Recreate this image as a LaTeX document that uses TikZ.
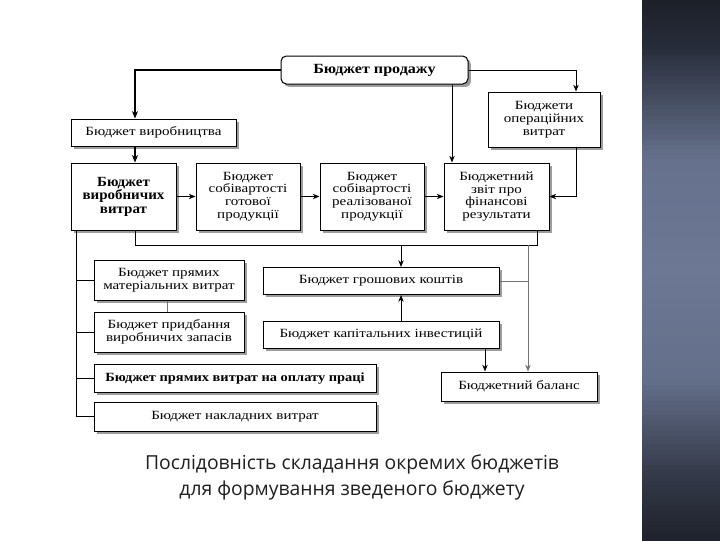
\documentclass[tikz,border=0pt]{standalone}
\usepackage{fontspec}
\setmainfont{Liberation Serif}[FakeStretch=1.2]
\newfontfamily\prodfont{Liberation Serif}[FakeStretch=1.15]
\newfontfamily\vvfont{Liberation Serif}[FakeStretch=1.07]
\newfontfamily\capfont{Open Sans}
\usetikzlibrary{arrows.meta,shadows}
\definecolor{pantop}{HTML}{1C2029}
\definecolor{panmid}{HTML}{6C7894}
\definecolor{panbot}{HTML}{1E222C}
\definecolor{panq}{HTML}{272C39}
\definecolor{panr}{HTML}{353A4A}
\definecolor{pans}{HTML}{66718C}
\definecolor{pant}{HTML}{646F8A}
\begin{document}
\begin{tikzpicture}[x=0.75pt,y=-0.75pt,
  box/.style={draw=black, line width=0.75pt, fill=white, align=center, inner sep=0pt,
    font=\fontsize{9.4}{9.6}\selectfont,
    drop shadow={shadow xshift=2.2pt, shadow yshift=-2.2pt, fill=black!45, opacity=0.85}},
  arr/.style={-{Stealth[length=5pt,width=4pt,inset=1.5pt]}, line width=0.75pt},
  tarr/.style={-{Stealth[length=5.5pt,width=4.5pt,inset=1.5pt]}, line width=1.4pt},
  ln/.style={line width=0.75pt},
  gln/.style={line width=0.6pt, draw=black!55},
  garr/.style={gln, -{Stealth[length=5pt,width=4pt,inset=1.5pt]}}
]
\useasboundingbox (0,0) rectangle (720,540);
\fill[white] (0,0) rectangle (720,540);
% side panel: vertical gradient built from strips
\foreach \i in {0,...,107} {
  \pgfmathsetmacro\yy{\i*5+2.5}
  \ifdim\yy pt<45pt
    \pgfmathsetmacro\p{100*\yy/45}\colorlet{sc}{panq!\p!pantop}
  \else\ifdim\yy pt<160pt
    \pgfmathsetmacro\p{100*(\yy-45)/115}\colorlet{sc}{pans!\p!panq}
  \else\ifdim\yy pt<270pt
    \pgfmathsetmacro\p{100*(\yy-160)/110}\colorlet{sc}{panmid!\p!pans}
  \else\ifdim\yy pt<380pt
    \pgfmathsetmacro\p{100*(\yy-270)/110}\colorlet{sc}{pant!\p!panmid}
  \else\ifdim\yy pt<475pt
    \pgfmathsetmacro\p{100*(\yy-380)/95}\colorlet{sc}{panr!\p!pant}
  \else
    \pgfmathsetmacro\p{100*(\yy-475)/65}\colorlet{sc}{panbot!\p!panr}
  \fi\fi\fi\fi\fi
  \fill[sc] (642,\i*5) rectangle (720,\i*5+5.5);
}

% boxes
\node[box, font=\prodfont\fontsize{10.5}{10.2}\selectfont\bfseries, rounded corners=4pt, minimum width=140.25pt, minimum height=21pt] (prod) at (374.5,70) {Бюджет продажу};
\node[box, minimum width=84pt, minimum height=41.25pt] (oper) at (544,119.5) {Бюджети\\операційних\\витрат};
\node[box, minimum width=123.75pt, minimum height=20.25pt] (vyrob) at (153.5,132.5) {Бюджет виробництва};
\node[box, font=\vvfont\fontsize{10.5}{10.2}\selectfont\bfseries, minimum width=78.75pt, minimum height=50.25pt] (vv) at (123.5,196.5) {Бюджет\\виробничих\\витрат};
\node[box, minimum width=78pt, minimum height=50.25pt] (sg) at (248,196.5) {Бюджет\\собівартості\\готової\\продукції};
\node[box, minimum width=78pt, minimum height=50.25pt] (sr) at (372,196.5) {Бюджет\\собівартості\\реалізованої\\продукції};
\node[box, minimum width=78.75pt, minimum height=50.25pt] (zvit) at (496.5,196.5) {Бюджетний\\звіт про\\фінансові\\результати};
\node[box, minimum width=112.5pt, minimum height=30pt] (pmv) at (169,280.5) {Бюджет прямих\\матеріальних витрат};
\node[box, minimum width=177pt, minimum height=20.25pt] (gk) at (381,281) {Бюджет грошових коштів};
\node[box, minimum width=112.5pt, minimum height=30pt] (pz) at (169,332) {Бюджет придбання\\виробничих запасів};
\node[box, minimum width=177pt, minimum height=20.25pt] (ki) at (381,334.5) {Бюджет капітальних інвестицій};
\node[box, font=\prodfont\fontsize{9.4}{9.6}\selectfont\bfseries, minimum width=211.5pt, minimum height=21pt] (op) at (235,378) {Бюджет прямих витрат на оплату праці};
\node[box, minimum width=117pt, minimum height=21.75pt] (bal) at (519,386.5) {Бюджетний баланс};
\node[box, minimum width=211.5pt, minimum height=21.75pt] (nv) at (235,416.5) {Бюджет накладних витрат};

% helper coordinates
\coordinate (c1) at (135,0);
\coordinate (c2) at (576,0);
\coordinate (c3) at (452,0);
\coordinate (c4) at (537,0);
\coordinate (c5) at (401,0);
\coordinate (c6) at (485,0);
\coordinate (c7) at (528,0);
\coordinate (c8) at (167,0);
\coordinate (cL) at (76,0);
\coordinate (bus) at (0,245);

% connectors
\draw[tarr] (prod.west) -| (c1 |- vyrob.north);
\draw[tarr] (c1 |- vyrob.south) -- (c1 |- vv.north);
\draw[arr] (prod.east) -| (c2 |- oper.north);
\draw[arr] (c3 |- prod.south) -- (c3 |- zvit.north);
\draw[arr] (vv.east) -- (sg.west);
\draw[arr] (sg.east) -- (sr.west);
\draw[arr] (sr.east) -- (zvit.west);
\draw[arr] (c2 |- oper.south) |- (zvit.east);
\draw[ln] (c1 |- vv.south) -- (c1 |- bus) -- (c4 |- bus) -- (c4 |- zvit.south);
\draw[arr] (c5 |- bus) -- (c5 |- gk.north);
\draw[arr] (c5 |- ki.north) -- (c5 |- gk.south);
\draw[arr] (c6 |- ki.south) -- (c6 |- bal.north);
\draw[garr] (c7 |- bus) -- (c7 |- bal.north);
\draw[gln] (gk.east) -- (c7 |- gk.east);
\draw[ln] (cL |- vv.south) -- (cL |- nv.west);
\draw[ln] (cL |- pmv.west) -- (pmv.west);
\draw[ln] (cL |- pz.west) -- (pz.west);
\draw[ln] (cL |- op.west) -- (op.west);
\draw[ln] (cL |- nv.west) -- (nv.west);
\draw[gln] (c8 |- pmv.south) -- (c8 |- pz.north);

% caption
\node[font=\capfont\fontsize{14.5}{19}\selectfont, align=center, text=black!88] (cap) at (352,477.5) {Послідовність складання окремих бюджетів\\для формування зведеного бюджету};
\end{tikzpicture}
\end{document}
